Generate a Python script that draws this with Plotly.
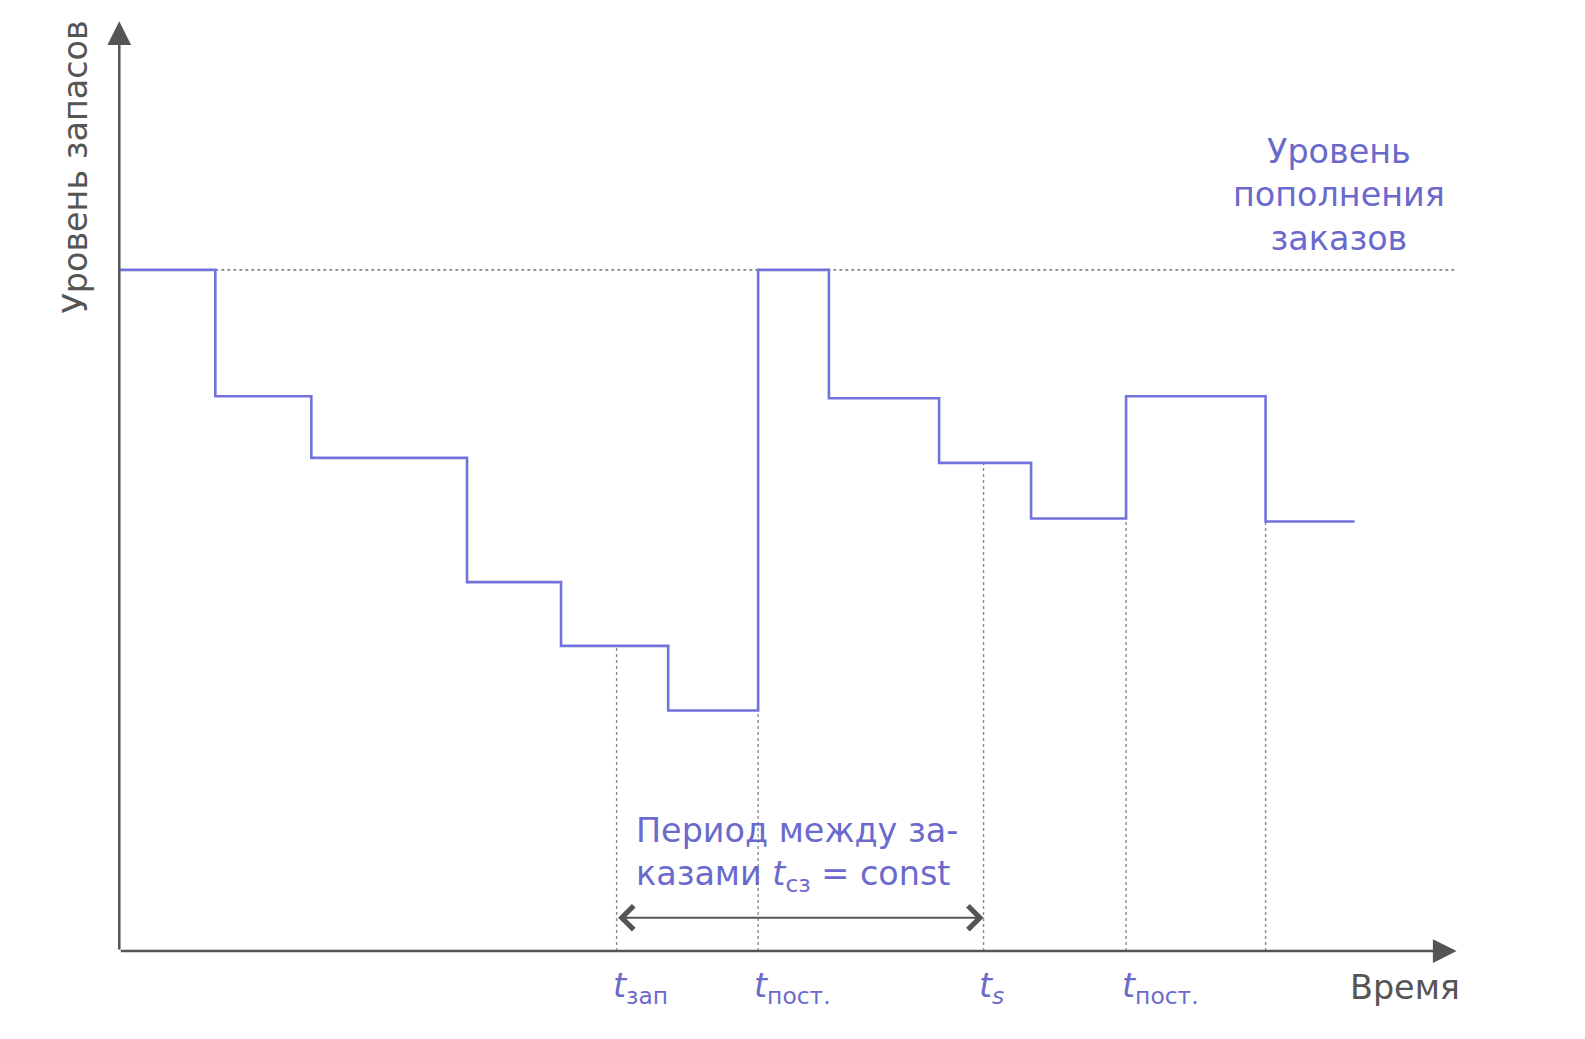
import plotly.graph_objects as go

# Step breakpoints (time units) and inventory level on each interval
step_t = [0, 9.5, 19.0, 34.4, 43.7, 54.3, 63.2, 70.2, 81.1, 90.2, 99.6, 113.4]
step_end = 122.2
step_level = [67.4, 54.9, 48.8, 36.5, 30.2, 23.8, 67.4, 54.7, 48.3, 42.8, 54.9, 42.5]

replenish_level = 67.4

# Marked time points
mark_t = [49.2, 63.2, 85.5, 99.6, 113.4]
mark_labels = ["<i>t</i><sub>зап</sub>", "<i>t</i><sub>пост.</sub>", "<i>t</i><sub><i>s</i></sub>",
               "<i>t</i><sub>пост.</sub>", None]

period_start, period_end = 49.2, 85.5
period_y = 3.3

x_axis_end = 132.3
y_axis_end = 92.0

BLUE = "#7272dc"
TXT_BLUE = "#6a6acc"
GRAY = "#555555"
FONT = "DejaVu Sans"
FS = 33.4


def level_at(t):
    idx = max(i for i, s in enumerate(step_t) if s <= t + 1e-9)
    if abs(step_t[idx] - t) < 1e-6 and idx > 0:
        return min(step_level[idx], step_level[idx - 1])
    return step_level[idx]


fig = go.Figure()

# replenishment level dotted line
fig.add_trace(go.Scatter(x=[step_t[1], x_axis_end], y=[replenish_level, replenish_level],
                         mode="lines", line=dict(color="#8a8a8a", width=1.6, dash="dot"),
                         hoverinfo="skip", showlegend=False))

# vertical dotted lines
for t in mark_t:
    fig.add_trace(go.Scatter(x=[t, t], y=[0, level_at(t)], mode="lines",
                             line=dict(color="#8a8a8a", width=1.4, dash="dot"),
                             hoverinfo="skip", showlegend=False))

# step line
fig.add_trace(go.Scatter(x=step_t + [step_end], y=step_level + [step_level[-1]],
                         mode="lines", line=dict(color=BLUE, width=2.6, shape="hv"),
                         hoverinfo="skip", showlegend=False))

annotations = []
# axes with arrows
annotations.append(dict(x=x_axis_end, y=0, ax=0, ay=0, xref="x", yref="y", axref="x", ayref="y",
                        showarrow=True, arrowhead=2, arrowsize=1.9, arrowwidth=2.5,
                        arrowcolor=GRAY, text=""))
annotations.append(dict(x=0, y=y_axis_end, ax=0, ay=0, xref="x", yref="y", axref="x", ayref="y",
                        showarrow=True, arrowhead=2, arrowsize=1.9, arrowwidth=2.5,
                        arrowcolor=GRAY, text=""))
# period double arrow
annotations.append(dict(x=period_end, y=period_y, ax=period_start, ay=period_y,
                        xref="x", yref="y", axref="x", ayref="y",
                        showarrow=True, arrowhead=4, startarrowhead=4, arrowside="end+start",
                        arrowsize=2.3, startarrowsize=2.3, arrowwidth=2.0,
                        arrowcolor=GRAY, text=""))

# time labels
for t, lab in zip(mark_t, mark_labels):
    if lab is None:
        continue
    annotations.append(dict(x=t - 0.6, y=-3.7, xref="x", yref="y", text=lab, showarrow=False,
                            xanchor="left", yanchor="middle",
                            font=dict(family=FONT, size=FS, color=TXT_BLUE)))

annotations.append(dict(x=127.2, y=-3.6, xref="x", yref="y", text="Время", showarrow=False,
                        xanchor="center", yanchor="middle",
                        font=dict(family=FONT, size=FS, color=GRAY)))

annotations.append(dict(x=-4.3, y=77.6, xref="x", yref="y", text="Уровень запасов", showarrow=False,
                        textangle=-90, xanchor="center", yanchor="middle",
                        font=dict(family=FONT, size=FS, color=GRAY)))

annotations.append(dict(x=120.7, y=74.8, xref="x", yref="y",
                        text="Уровень<br>пополнения<br>заказов", showarrow=False,
                        xanchor="center", yanchor="middle", align="center",
                        font=dict(family=FONT, size=FS, color=TXT_BLUE)))

annotations.append(dict(x=50.9, y=9.6, xref="x", yref="y",
                        text="Период между за-<br>казами <i>t</i><sub>сз</sub> = const",
                        showarrow=False, xanchor="left", yanchor="middle", align="left",
                        font=dict(family=FONT, size=FS, color=TXT_BLUE)))

fig.update_layout(
    width=1585, height=1039,
    margin=dict(l=0, r=0, t=0, b=0),
    paper_bgcolor="white", plot_bgcolor="white",
    xaxis=dict(range=[-11.8, 145.0], visible=False, fixedrange=True),
    yaxis=dict(range=[-8.7, 94.1], visible=False, fixedrange=True),
    annotations=annotations,
    showlegend=False,
)

fig.write_html("out.html", config={"displayModeBar": False},
               post_script="document.body.style.margin='0';document.body.style.overflow='hidden';")
